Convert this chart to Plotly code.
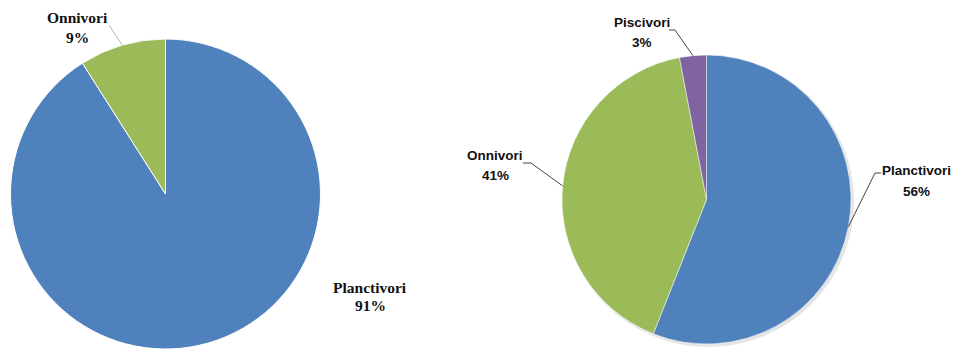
import math
import plotly.graph_objects as go

W, H = 956, 349

# Diet composition, two samples
left_labels = ["Planctivori", "Onnivori"]
left_values = [91, 9]
right_labels = ["Planctivori", "Onnivori", "Piscivori"]
right_values = [56, 41, 3]

colors = {"Planctivori": "#4F81BD", "Onnivori": "#9BBB59", "Piscivori": "#8064A2"}

# pie boxes in pixels: (x0, x1, y_top, y_bottom)
left_box = (10, 321, 39, 349)
right_box = (562, 851, 55, 344)


def fx(x):
    return x / W


def fy(y):
    return 1 - y / H


def domain(box):
    x0, x1, yt, yb = box
    return dict(x=[fx(x0), fx(x1)], y=[fy(yb), fy(yt)])


def edge_point(box, values, i):
    """Point on the rim at the middle of slice i (clockwise from 12 o'clock)."""
    x0, x1, yt, yb = box
    r = min(x1 - x0, yb - yt) / 2
    cx, cy = (x0 + x1) / 2, (yt + yb) / 2
    tot = sum(values)
    mid = (sum(values[:i]) + values[i] / 2) / tot * 2 * math.pi
    return cx + r * math.sin(mid), cy - r * math.cos(mid)


fig = go.Figure()

# soft shadow behind the right pie
rx0, rx1, ryt, ryb = right_box
fig.add_shape(type="circle", xref="paper", yref="paper", layer="below",
              x0=fx(rx0 + 1), x1=fx(rx1 + 3), y0=fy(ryb + 3), y1=fy(ryt + 1),
              fillcolor="rgba(0,0,0,0.10)", line=dict(width=0))

fig.add_trace(go.Pie(
    labels=left_labels, values=left_values, sort=False, direction="clockwise",
    rotation=0, textinfo="none", hoverinfo="label+percent",
    marker=dict(colors=[colors[l] for l in left_labels], line=dict(color="white", width=1)),
    domain=domain(left_box), showlegend=False,
))
fig.add_trace(go.Pie(
    labels=right_labels, values=right_values, sort=False, direction="clockwise",
    rotation=0, textinfo="none", hoverinfo="label+percent",
    marker=dict(colors=[colors[l] for l in right_labels], line=dict(color="white", width=0.5)),
    domain=domain(right_box), showlegend=False,
))

serif = dict(family="Liberation Serif, Times New Roman, serif", size=15.5, color="#111")
sans = dict(family="Liberation Sans, Arial, sans-serif", size=13.5, color="#111")

# (slice index, text centre x, name y, percent y, leader-line start points), pixels
left_notes = [
    (0, 370, 287, 305, None),
    (1, 77, 17, 37, [(109, 25)]),
]
right_notes = [
    (0, 916, 170, 191, [(881, 173), (875, 173)]),
    (1, 495, 155, 175, [(523, 163), (531, 163)]),
    (2, 642, 23, 43, [(669, 30), (675, 30)]),
]


def add_notes(notes, labels, values, box, font, line_color):
    tot = sum(values)
    for i, cx, y_name, y_pct, leader in notes:
        pct = round(values[i] / tot * 100)
        for txt, yy in ((labels[i], y_name), (f"{pct}%", y_pct)):
            fig.add_annotation(xref="paper", yref="paper", x=fx(cx), y=fy(yy),
                               text=f"<b>{txt}</b>", showarrow=False, font=font,
                               xanchor="center", yanchor="middle")
        if leader:
            pts = leader + [edge_point(box, values, i)]
            for (xa, ya), (xb, yb) in zip(pts[:-1], pts[1:]):
                fig.add_shape(type="line", xref="paper", yref="paper",
                              x0=fx(xa), y0=fy(ya), x1=fx(xb), y1=fy(yb),
                              line=dict(color=line_color, width=1))


add_notes(left_notes, left_labels, left_values, left_box, serif, "#b8b8b8")
add_notes(right_notes, right_labels, right_values, right_box, sans, "#444")

fig.update_layout(width=W, height=H, margin=dict(l=0, r=0, t=0, b=0),
                  paper_bgcolor="white", plot_bgcolor="white")

fig.write_html("out.html")
